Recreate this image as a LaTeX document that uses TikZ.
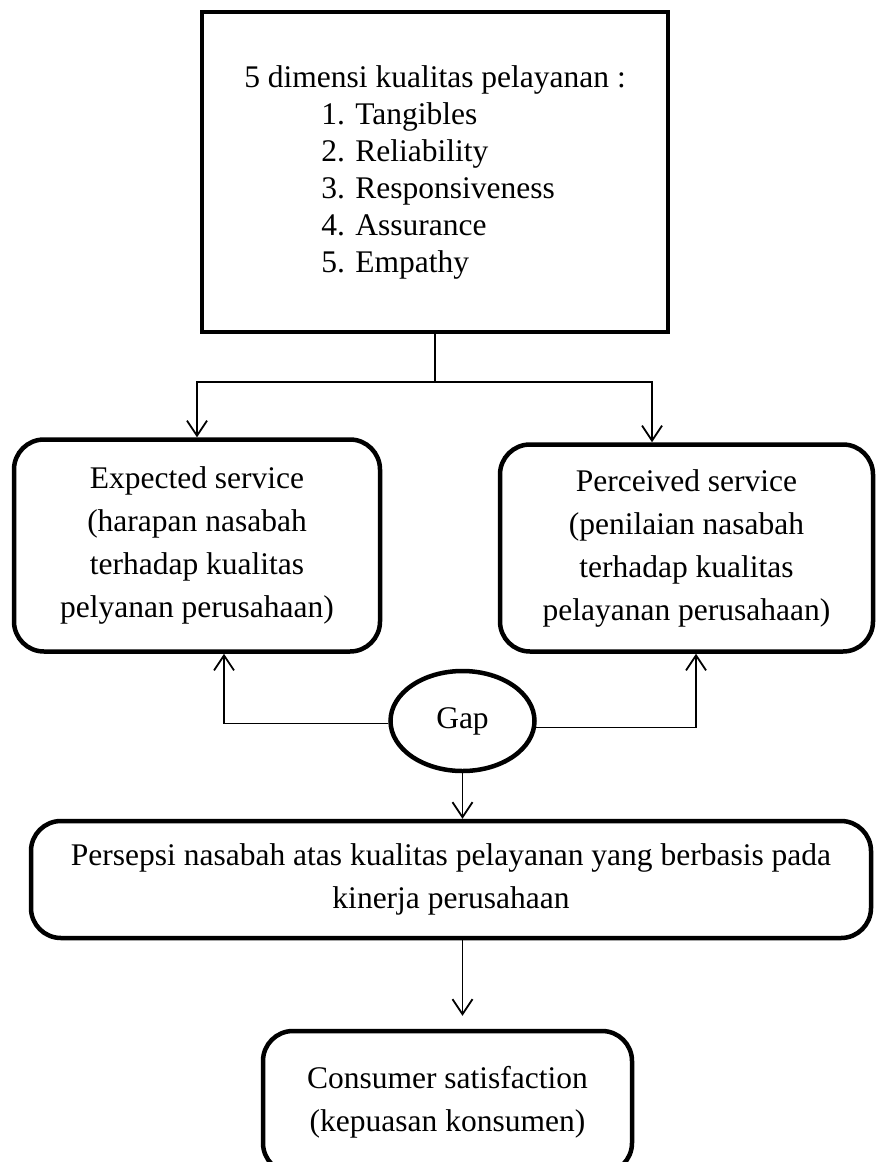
\documentclass[tikz,border=0pt]{standalone}
\usepackage{fontspec}
\setmainfont{Liberation Serif}
\usetikzlibrary{arrows.meta,shapes.geometric}

\tikzstyle{dimension}=[rectangle,draw,line width=4.5pt,minimum width=466pt,minimum height=320pt,inner sep=0pt,align=left,font=\fontsize{31.5}{37}\selectfont]
\tikzstyle{service}=[rectangle,rounded corners=30pt,draw,line width=4.5pt,inner sep=0pt,align=center,font=\fontsize{31.5}{43}\selectfont]
\tikzstyle{gap oval}=[ellipse,draw,line width=4.5pt,minimum width=144pt,minimum height=100pt,inner sep=0pt,font=\fontsize{31.5}{37}\selectfont]
\tikzstyle{line edge} = [draw,line width=1.8pt,-]
\tikzstyle{flow edge} = [draw,line width=1.8pt,->]

\begin{document}
\begin{tikzpicture}[x=1pt,y=-1pt,>={Straight Barb[length=15pt,width=20pt]}]
			\useasboundingbox (0,0) rectangle (880,1162);
			\clip (0,0) rectangle (880,1162);
			\node[dimension] (dims) at (435,172) {5 dimensi kualitas pelayanan :\\
				\hspace*{77pt}1. Tangibles\\
				\hspace*{77pt}2. Reliability\\
				\hspace*{77pt}3. Responsiveness\\
				\hspace*{77pt}4. Assurance\\
				\hspace*{77pt}5. Empathy};
			\node[service,minimum width=366pt,minimum height=212pt] (expected) at (197,545.5) {Expected service\\(harapan nasabah\\terhadap kualitas\\pelyanan perusahaan)};
			\node[service,minimum width=373pt,minimum height=207pt] (perceived) at (686.5,548) {Perceived service\\(penilaian nasabah\\terhadap kualitas\\pelayanan perusahaan)};
			\node[gap oval] (gap) at (462.5,721) {Gap};
			\node[service,minimum width=840pt,minimum height=117pt] (persepsi) at (451,879.5) {Persepsi nasabah atas kualitas pelayanan yang berbasis pada\\kinerja perusahaan};
			\node[service,minimum width=369pt,minimum height=142pt] (satisfaction) at (447.5,1102) {Consumer satisfaction\\(kepuasan konsumen)};
			% Bend points of the connectors
			\coordinate (split) at (435,382);
			\coordinate (rdown) at (652,382);
			\coordinate (lup) at (224,723);
			\coordinate (rup) at (696,727);
			% Split from the dimensions down to both services
			\path[line edge] (dims.south) -- (split);
			\path[flow edge] (split) -| (expected.north);
			\path[flow edge] (split) -| (rdown |- perceived.north);
			% Gap back up to both services
			\foreach \source/ \dest in {gap.182/lup |- expected.south,gap.-5/rup |- perceived.south}
				\path[flow edge] (\source) -| (\dest);
			\path[flow edge] (gap.south) -- (gap.south |- persepsi.north);
			\path[flow edge,shorten >=13pt] (gap.south |- persepsi.south) -- (gap.south |- satisfaction.north);
		\end{tikzpicture}
\end{document}
